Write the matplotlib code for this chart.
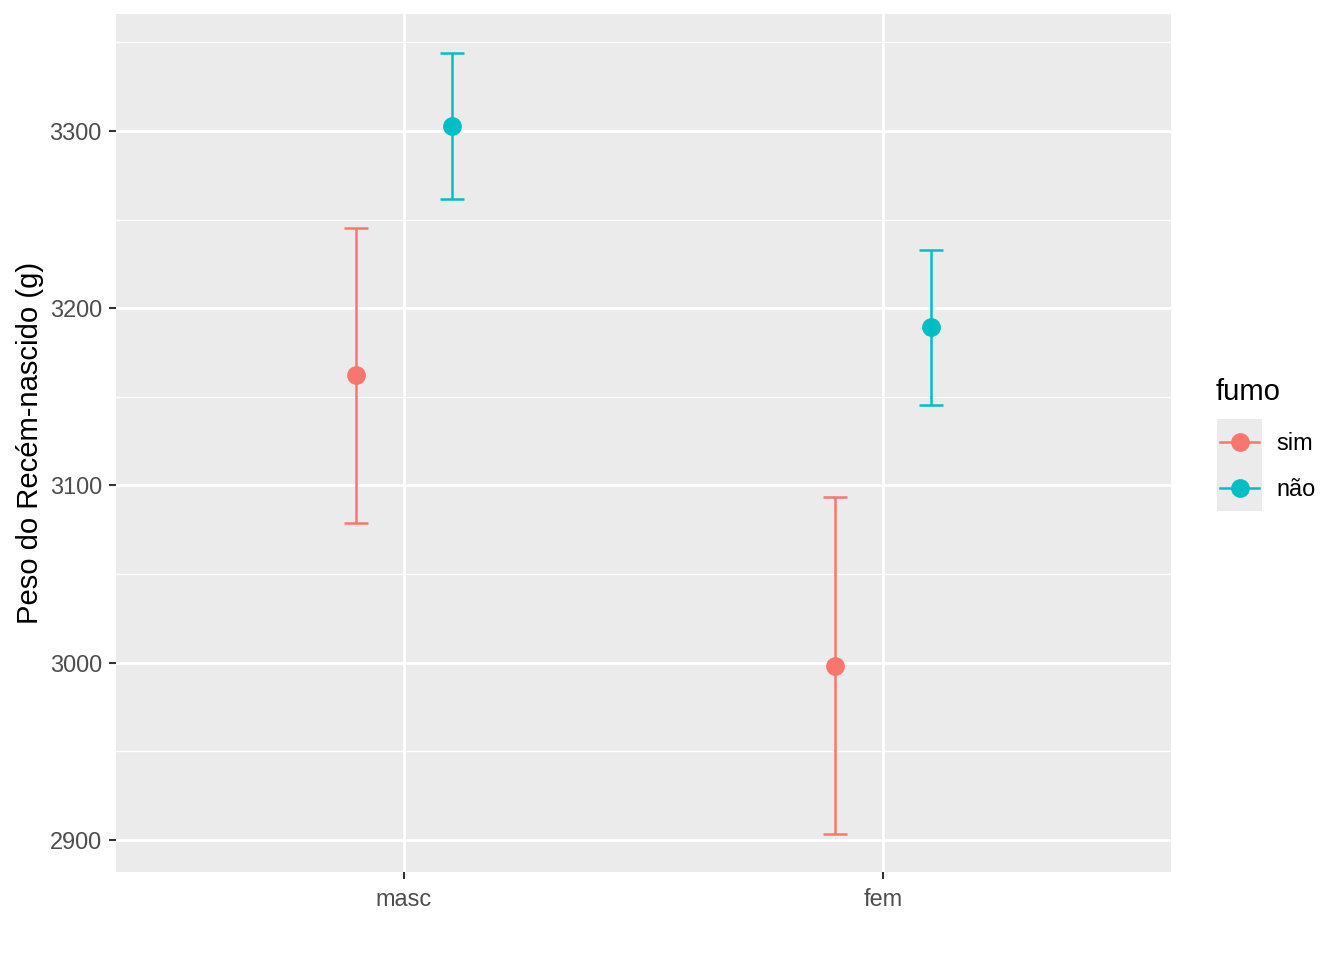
import matplotlib
matplotlib.use("Agg")
import matplotlib.pyplot as plt
from matplotlib.lines import Line2D
from matplotlib.patches import Rectangle
import numpy as np

plt.rcParams['font.family'] = ['Liberation Sans', 'DejaVu Sans']

categories = ["masc", "fem"]
groups = ["sim", "não"]
colors = {"sim": "#F8766D", "não": "#00BFC4"}
means = {"sim": [3162.3, 2998.2], "não": [3302.8, 3189.4]}
lower = {"sim": [3078.8, 2903.4], "não": [3261.6, 3145.4]}
upper = {"sim": [3245.3, 3093.5], "não": [3344.0, 3232.9]}
yticks = [2900, 3000, 3100, 3200, 3300]
minor_y = [2950, 3050, 3150, 3250, 3350]

W, H = 1344, 960
fig = plt.figure(figsize=(W / 100, H / 100), dpi=100)
ax = fig.add_axes([116 / W, 1 - 872 / H, (1171 - 116) / W, (872 - 14) / H])
ax.set_facecolor("#EBEBEB")
for s in ax.spines.values():
    s.set_visible(False)

xpos = np.arange(1, len(categories) + 1)
ax.set_xlim(0.4, 2.6)
ax.set_ylim(2881.9, 3366.0)

major_lw = 2.0
for y in yticks:
    ax.axhline(y, color="white", lw=major_lw, zorder=0)
for y in minor_y:
    ax.axhline(y, color="white", lw=1.0, zorder=0)
for x in xpos:
    ax.axvline(x, color="white", lw=major_lw, zorder=0)

offsets = {"sim": -0.1, "não": 0.1}
cap = 0.025
elw = 1.8
for g in groups:
    xs = xpos + offsets[g]
    c = colors[g]
    for x, lo, hi in zip(xs, lower[g], upper[g]):
        ax.plot([x, x], [lo, hi], color=c, lw=elw, zorder=2, solid_capstyle="butt")
        ax.plot([x - cap, x + cap], [lo, lo], color=c, lw=elw, zorder=2, solid_capstyle="butt")
        ax.plot([x - cap, x + cap], [hi, hi], color=c, lw=elw, zorder=2, solid_capstyle="butt")
    ax.plot(xs, means[g], "o", color=c, ms=13.5, zorder=3, markeredgewidth=0)

ax.set_xticks(xpos)
ax.set_xticklabels(categories)
ax.set_yticks(yticks)
ax.set_yticklabels([str(y) for y in yticks])
ax.tick_params(axis="both", colors="#333333", labelcolor="#4D4D4D", labelsize=16.9,
               length=5.3, width=1.5, pad=4.2)
ax.tick_params(axis="x", pad=6.0)
ax.tick_params(axis="y", pad=5.0)
ax.set_ylabel("Peso do Recém-nascido (g)", fontsize=21.1, color="black")
ax.yaxis.set_label_coords(30 / W, 1 - 443 / H, transform=fig.transFigure)
ax.yaxis.label.set_verticalalignment("center")

# legend (drawn manually, ggplot style)
fig.text(1216 / W, 1 - 392 / H, "fumo", fontsize=21.1, ha="left", va="center")
key_x0, key_w, key_h, key_top = 1217, 45, 46, 419
fig.patches.append(Rectangle((key_x0 / W, 1 - (key_top + 2 * key_h) / H), key_w / W, 2 * key_h / H,
                             transform=fig.transFigure, facecolor="#EBEBEB",
                             edgecolor="none", zorder=0))
for i, g in enumerate(groups):
    cy = key_top + key_h * (i + 0.5)
    fig.add_artist(Line2D([(key_x0 + 3) / W, (key_x0 + key_w - 3) / W], [1 - cy / H, 1 - cy / H],
                          color=colors[g], lw=elw, transform=fig.transFigure))
    fig.add_artist(Line2D([(key_x0 + key_w / 2) / W], [1 - cy / H], marker="o", ms=13.5,
                          color=colors[g], markeredgewidth=0, transform=fig.transFigure))
    fig.text(1276 / W, 1 - (cy + 2) / H, g, fontsize=16.9, ha="left", va="center")

fig.savefig("out.png", dpi=100)
